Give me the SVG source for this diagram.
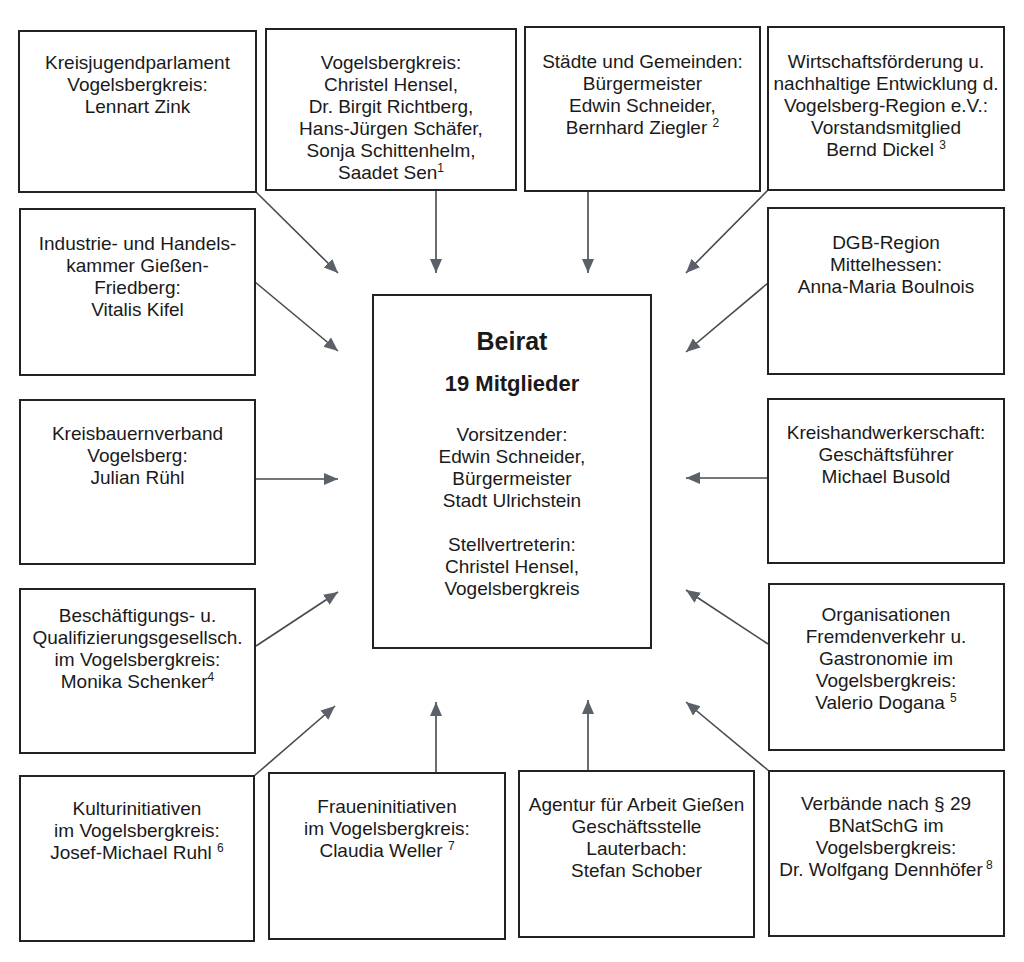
<svg xmlns="http://www.w3.org/2000/svg" width="1024" height="962" viewBox="0 0 1024 962">
<style>
.box{fill:#fff;stroke:#222;stroke-width:2}
.t{font-family:"Liberation Sans",Arial,sans-serif;font-size:19px;fill:#1a1a1a;text-anchor:middle}
.b{font-family:"Liberation Sans",Arial,sans-serif;font-weight:bold;fill:#1a1a1a;text-anchor:middle}
.sup{font-size:12px}
.c{stroke:#454a50;stroke-width:1.6;fill:none;marker-end:url(#ah)}
</style>
<defs>
<marker id="ah" markerUnits="userSpaceOnUse" markerWidth="14" markerHeight="14" viewBox="0 0 14 12" refX="14" refY="6" orient="auto">
<path d="M0,0 L14,6 L0,12 z" fill="#5b6169"/>
</marker>
</defs>
<rect width="1024" height="962" fill="#fff"/>

<g id="connectors">
<line class="c" x1="256" y1="192" x2="338" y2="273"/>
<line class="c" x1="436" y1="190" x2="436" y2="273"/>
<line class="c" x1="588" y1="191" x2="588" y2="273"/>
<line class="c" x1="768" y1="190" x2="686" y2="273"/>
<line class="c" x1="255" y1="282" x2="338" y2="351"/>
<line class="c" x1="768" y1="283" x2="686" y2="352"/>
<line class="c" x1="255" y1="479" x2="338" y2="479"/>
<line class="c" x1="768" y1="478" x2="686" y2="478"/>
<line class="c" x1="256" y1="646" x2="338" y2="592"/>
<line class="c" x1="768" y1="644" x2="686" y2="590"/>
<line class="c" x1="254" y1="776" x2="335" y2="706"/>
<line class="c" x1="436" y1="773" x2="436" y2="702"/>
<line class="c" x1="588" y1="771" x2="588" y2="700"/>
<line class="c" x1="769" y1="771" x2="686" y2="702"/>
</g>

<g id="beirat">
<rect class="box" x="373" y="295" width="278" height="353"/>
<text class="b" x="512" y="350" font-size="25">Beirat</text>
<text class="b" x="512" y="391" font-size="22">19 Mitglieder</text>
<text class="t" x="512" y="441">Vorsitzender:</text>
<text class="t" x="512" y="463">Edwin Schneider,</text>
<text class="t" x="512" y="485">Bürgermeister</text>
<text class="t" x="512" y="507">Stadt Ulrichstein</text>
<text class="t" x="512" y="551">Stellvertreterin:</text>
<text class="t" x="512" y="573">Christel Hensel,</text>
<text class="t" x="512" y="595">Vogelsbergkreis</text>
</g>

<g id="kreisjugendparlament">
<rect class="box" x="19" y="31" width="237" height="161"/>
<text class="t" x="137.5" y="69">Kreisjugendparlament</text>
<text class="t" x="137.5" y="91">Vogelsbergkreis:</text>
<text class="t" x="137.5" y="113">Lennart Zink</text>
</g>

<g id="vogelsbergkreis">
<rect class="box" x="266" y="29" width="250" height="161"/>
<text class="t" x="391" y="69">Vogelsbergkreis:</text>
<text class="t" x="391" y="91">Christel Hensel,</text>
<text class="t" x="391" y="113">Dr. Birgit Richtberg,</text>
<text class="t" x="391" y="135">Hans-Jürgen Schäfer,</text>
<text class="t" x="391" y="157">Sonja Schittenhelm,</text>
<text class="t" x="391" y="179">Saadet Sen<tspan class="sup" dy="-7">1</tspan></text>
</g>

<g id="staedte">
<rect class="box" x="525" y="27" width="235" height="164"/>
<text class="t" x="642.5" y="68">Städte und Gemeinden:</text>
<text class="t" x="642.5" y="90">Bürgermeister</text>
<text class="t" x="642.5" y="112">Edwin Schneider,</text>
<text class="t" x="642.5" y="134">Bernhard Ziegler <tspan class="sup" dy="-7">2</tspan></text>
</g>

<g id="wirtschaftsfoerderung">
<rect class="box" x="768" y="27" width="236" height="163"/>
<text class="t" x="886" y="68">Wirtschaftsförderung u.</text>
<text class="t" x="886" y="90">nachhaltige Entwicklung d.</text>
<text class="t" x="886" y="112">Vogelsberg-Region e.V.:</text>
<text class="t" x="886" y="134">Vorstandsmitglied</text>
<text class="t" x="886" y="156">Bernd Dickel <tspan class="sup" dy="-7">3</tspan></text>
</g>

<g id="ihk">
<rect class="box" x="20" y="209" width="235" height="166"/>
<text class="t" x="137.5" y="250">Industrie- und Handels-</text>
<text class="t" x="137.5" y="272">kammer Gießen-</text>
<text class="t" x="137.5" y="294">Friedberg:</text>
<text class="t" x="137.5" y="316">Vitalis Kifel</text>
</g>

<g id="dgb">
<rect class="box" x="768" y="208" width="236" height="166"/>
<text class="t" x="886" y="249">DGB-Region</text>
<text class="t" x="886" y="271">Mittelhessen:</text>
<text class="t" x="886" y="293">Anna-Maria Boulnois</text>
</g>

<g id="kreisbauernverband">
<rect class="box" x="20" y="400" width="235" height="164"/>
<text class="t" x="137.5" y="440">Kreisbauernverband</text>
<text class="t" x="137.5" y="462">Vogelsberg:</text>
<text class="t" x="137.5" y="484">Julian Rühl</text>
</g>

<g id="kreishandwerkerschaft">
<rect class="box" x="768" y="399" width="236" height="164"/>
<text class="t" x="886" y="439">Kreishandwerkerschaft:</text>
<text class="t" x="886" y="461">Geschäftsführer</text>
<text class="t" x="886" y="483">Michael Busold</text>
</g>

<g id="beschaeftigung">
<rect class="box" x="20" y="589" width="235" height="164"/>
<text class="t" x="137.5" y="622">Beschäftigungs- u.</text>
<text class="t" x="137.5" y="644">Qualifizierungsgesellsch.</text>
<text class="t" x="137.5" y="666">im Vogelsbergkreis:</text>
<text class="t" x="137.5" y="688">Monika Schenker<tspan class="sup" dy="-7">4</tspan></text>
</g>

<g id="fremdenverkehr">
<rect class="box" x="769" y="584" width="235" height="166"/>
<text class="t" x="886" y="621">Organisationen</text>
<text class="t" x="886" y="643">Fremdenverkehr u.</text>
<text class="t" x="886" y="665">Gastronomie im</text>
<text class="t" x="886" y="687">Vogelsbergkreis:</text>
<text class="t" x="886" y="709">Valerio Dogana <tspan class="sup" dy="-7">5</tspan></text>
</g>

<g id="kulturinitiativen">
<rect class="box" x="20" y="776" width="234" height="165"/>
<text class="t" x="137" y="815">Kulturinitiativen</text>
<text class="t" x="137" y="837">im Vogelsbergkreis:</text>
<text class="t" x="137" y="859">Josef-Michael Ruhl <tspan class="sup" dy="-7">6</tspan></text>
</g>

<g id="fraueninitiativen">
<rect class="box" x="269" y="773" width="236" height="166"/>
<text class="t" x="387" y="813">Fraueninitiativen</text>
<text class="t" x="387" y="835">im Vogelsbergkreis:</text>
<text class="t" x="387" y="857">Claudia Weller <tspan class="sup" dy="-7">7</tspan></text>
</g>

<g id="agentur">
<rect class="box" x="519" y="771" width="235" height="166"/>
<text class="t" x="636.5" y="811">Agentur für Arbeit Gießen</text>
<text class="t" x="636.5" y="833">Geschäftsstelle</text>
<text class="t" x="636.5" y="855">Lauterbach:</text>
<text class="t" x="636.5" y="877">Stefan Schober</text>
</g>

<g id="verbaende">
<rect class="box" x="769" y="771" width="235" height="165"/>
<text class="t" x="886" y="810">Verbände nach § 29</text>
<text class="t" x="886" y="832">BNatSchG im</text>
<text class="t" x="886" y="854">Vogelsbergkreis:</text>
<text class="t" x="886" y="876">Dr. Wolfgang Dennhöfer<tspan class="sup" dy="-7"> 8</tspan></text>
</g>
</svg>
